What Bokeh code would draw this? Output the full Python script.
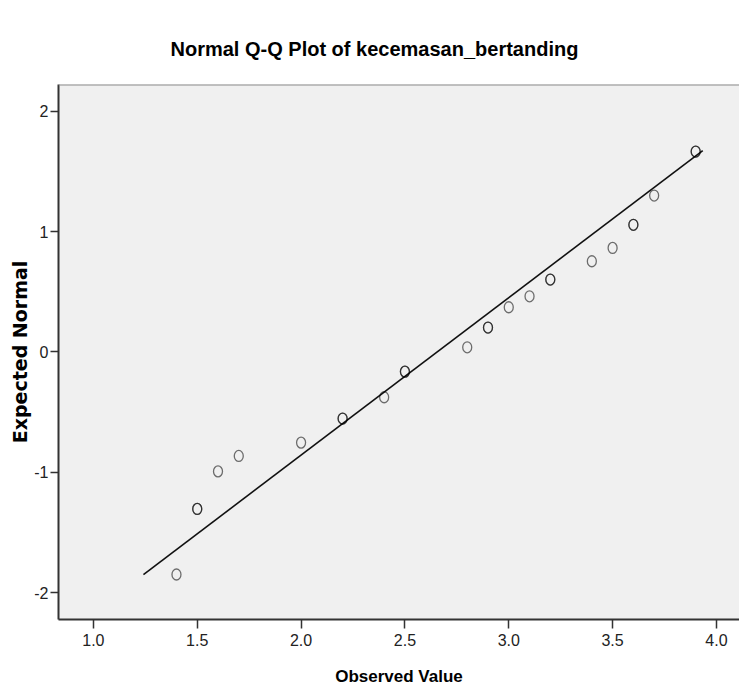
from bokeh.plotting import figure
from bokeh.models import Span, Range1d, FixedTicker, ColumnDataSource
from bokeh.embed import file_html
from bokeh.resources import INLINE

# ---- data ----
observed = [1.4, 1.5, 1.6, 1.7, 2.0, 2.2, 2.4, 2.5, 2.8, 2.9, 3.0, 3.1, 3.2, 3.4, 3.5, 3.6, 3.7, 3.9]
expected = [-1.850, -1.305, -0.993, -0.865, -0.754, -0.554, -0.377, -0.164, 0.038, 0.202,
            0.371, 0.462, 0.601, 0.753, 0.864, 1.056, 1.299, 1.665]
count = [1, 2, 1, 1, 1, 2, 1, 2, 1, 2, 1, 1, 2, 1, 1, 2, 1, 2]

line_observed = [1.241, 3.934]
line_expected = [-1.851, 1.673]

x_ticks = [1.0, 1.5, 2.0, 2.5, 3.0, 3.5, 4.0]
y_ticks = [-2, -1, 0, 1, 2]
x_limits = (0.832, 4.111)
y_limits = (-2.224, 2.222)

title_text = "Normal Q-Q Plot of kecemasan_bertanding"
x_label = "Observed Value"
y_label = "Expected Normal"

NARROW = "'Liberation Sans Narrow', 'Arial Narrow', 'Liberation Sans', sans-serif"

p = figure(width=739, height=688, output_backend="svg", toolbar_location=None,
           x_range=Range1d(*x_limits), y_range=Range1d(*y_limits),
           min_border_left=58, min_border_right=0, min_border_top=84, min_border_bottom=69,
           title=title_text)
p.background_fill_color = "#f0f0f0"
p.border_fill_color = "white"
p.outline_line_color = None
p.grid.visible = False

p.title.text_font = "'Liberation Sans', Arial, sans-serif"
p.title.text_font_size = "20px"
p.title.text_font_style = "bold"
p.title.align = "left"
p.title.offset = 112
p.title.standoff = 50
p.title.text_color = "black"

for ax in (p.xaxis[0], p.yaxis[0]):
    ax.axis_line_color = "#333333"
    ax.axis_line_width = 2
    ax.major_tick_line_color = "#333333"
    ax.major_tick_line_width = 1.5
    ax.major_tick_in = 0
    ax.minor_tick_line_color = None
    ax.major_label_text_font = NARROW
    ax.major_label_text_font_size = "16px"
    ax.major_label_text_color = "#222222"

p.xaxis.ticker = FixedTicker(ticks=x_ticks)
p.yaxis.ticker = FixedTicker(ticks=y_ticks)
p.xaxis.major_label_overrides = {t: f"{t:.1f}" for t in x_ticks}
p.yaxis.major_label_overrides = {t: f"{t:d}" for t in y_ticks}
p.xaxis.major_tick_out = 9
p.yaxis.major_tick_out = 8
p.xaxis.major_label_standoff = 5
p.yaxis.major_label_standoff = 2

p.xaxis.axis_label = x_label
p.xaxis.axis_label_text_font = NARROW
p.xaxis.axis_label_text_font_size = "17px"
p.xaxis.axis_label_text_font_style = "bold"
p.xaxis.axis_label_standoff = 18
p.xaxis.axis_label_text_color = "black"

p.yaxis.axis_label = y_label
p.yaxis.axis_label_text_font = "'DejaVu Sans', sans-serif"
p.yaxis.axis_label_text_font_size = "19px"
p.yaxis.axis_label_text_font_style = "bold"
p.yaxis.axis_label_standoff = 0
p.yaxis.axis_label_text_color = "black"

# top border of the plot frame
p.add_layout(Span(location=y_limits[1], dimension="width", line_color="#8a8a8a", line_width=2))

# reference line
p.line(line_observed, line_expected, line_color="#111111", line_width=1.6)

# points (tied values drawn once per case, so they look darker)
src = ColumnDataSource(dict(x=observed, y=expected))
p.ellipse(x="x", y="y", width=9, height=11, width_units="screen", height_units="screen",
          source=src, fill_color=None, line_color="black", line_alpha=0.55, line_width=1.3)
dup_x = [o for o, c in zip(observed, count) if c > 1]
dup_y = [e for e, c in zip(expected, count) if c > 1]
p.ellipse(x=dup_x, y=dup_y, width=9, height=11, width_units="screen", height_units="screen",
          fill_color=None, line_color="black", line_alpha=0.55, line_width=1.3)

open("out.html", "w").write(file_html(p, INLINE))
